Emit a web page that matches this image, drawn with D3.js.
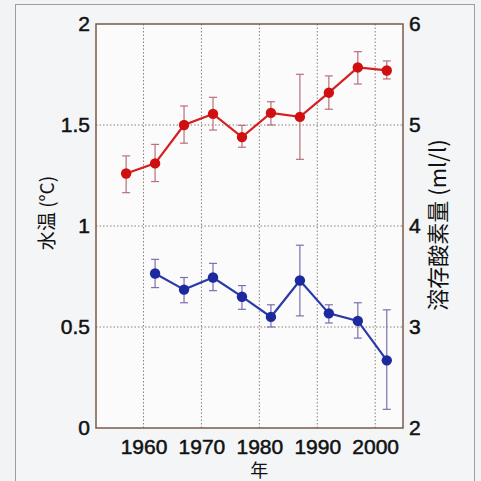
<!DOCTYPE html>
<html>
<head>
<meta charset="utf-8">
<script src="https://cdn.jsdelivr.net/npm/d3@7"></script>
<style>
  body { margin: 0; background: #f1f3f5; }
  svg { display: block; }
</style>
</head>
<body>
<div id="chart"></div>
<script>
// water temperature (left axis, red)
var tempYears = [1957, 1962, 1967, 1972, 1977, 1982, 1987, 1992, 1997, 2002];
var tempMean  = [1.26, 1.31, 1.50, 1.555, 1.44, 1.56, 1.54, 1.66, 1.785, 1.77];
var tempLow   = [1.165, 1.22, 1.41, 1.475, 1.39, 1.50, 1.33, 1.578, 1.703, 1.728];
var tempHigh  = [1.347, 1.404, 1.594, 1.637, 1.498, 1.615, 1.751, 1.743, 1.863, 1.817];

// dissolved oxygen (right axis, blue)
var oxyYears = [1962, 1967, 1972, 1977, 1982, 1987, 1992, 1997, 2002];
var oxyMean  = [3.53, 3.37, 3.49, 3.30, 3.10, 3.46, 3.135, 3.06, 2.67];
var oxyLow   = [3.39, 3.24, 3.36, 3.175, 3.00, 3.11, 3.04, 2.89, 2.185];
var oxyHigh  = [3.67, 3.49, 3.63, 3.41, 3.22, 3.81, 3.22, 3.24, 3.17];

var xTicks = [1960, 1970, 1980, 1990, 2000];
var leftTicks = [0, 0.5, 1, 1.5, 2];
var rightTicks = [2, 3, 4, 5, 6];

var W = 481, H = 481;
var margin = {top: 24, right: 78, bottom: 53, left: 96};
var width = W - margin.left - margin.right,
    height = H - margin.top - margin.bottom;

var svg = d3.select("#chart").append("svg")
    .attr("width", W)
    .attr("height", H);

// outer frame of the figure
svg.append("rect")
    .attr("x", 15.5).attr("y", 4.5)
    .attr("width", 459).attr("height", 490)
    .attr("fill", "#f3f5f7")
    .attr("stroke", "#9a9ea4")
    .attr("stroke-width", 1);

var g = svg.append("g")
    .attr("transform", "translate(" + margin.left + "," + margin.top + ")");

var x = d3.scaleLinear().domain([1951.8, 2004.8]).range([0, width]);
var yL = d3.scaleLinear().domain([0, 2]).range([height, 0]);
var yR = d3.scaleLinear().domain([2, 6]).range([height, 0]);

g.append("rect")
    .attr("width", width).attr("height", height)
    .attr("fill", "#fbfbfb");

// dotted grid
var gridColor = "#8f7f74";
g.append("g").selectAll("line")
    .data(xTicks)
    .enter().append("line")
    .attr("x1", function (d) { return x(d); })
    .attr("x2", function (d) { return x(d); })
    .attr("y1", 0).attr("y2", height)
    .attr("stroke", gridColor)
    .attr("stroke-width", 1)
    .attr("stroke-dasharray", "1.5,2");
g.append("g").selectAll("line")
    .data(leftTicks.slice(1, 4))
    .enter().append("line")
    .attr("x1", 0).attr("x2", width)
    .attr("y1", function (d) { return yL(d); })
    .attr("y2", function (d) { return yL(d); })
    .attr("stroke", gridColor)
    .attr("stroke-width", 1)
    .attr("stroke-dasharray", "1.5,2");

// axes
var font = "'Liberation Sans', Arial, sans-serif";
var xAxis = g.append("g")
    .attr("transform", "translate(0," + height + ")")
    .call(d3.axisBottom(x).tickValues(xTicks).tickFormat(d3.format("d")).tickSize(0).tickPadding(11));
var leftAxis = g.append("g")
    .call(d3.axisLeft(yL).tickValues(leftTicks).tickFormat(function (d) { return d; }).tickSize(0).tickPadding(6));
var rightAxis = g.append("g")
    .attr("transform", "translate(" + width + ",0)")
    .call(d3.axisRight(yR).tickValues(rightTicks).tickFormat(d3.format("d")).tickSize(0).tickPadding(6));

[xAxis, leftAxis, rightAxis].forEach(function (a) {
    a.select(".domain").remove();
    a.attr("font-size", 21).attr("font-family", font);
    a.selectAll("text")
        .attr("fill", "#111")
        .attr("stroke", "#111")
        .attr("stroke-width", 0.5)
        .attr("font-size", 21)
        .style("font-family", font)
        .style("font-size", "21px");
});

// plot frame
g.append("rect")
    .attr("width", width).attr("height", height)
    .attr("fill", "none")
    .attr("stroke", "#7a5a4c")
    .attr("stroke-width", 1.5);

// series
function drawSeries(years, mean, low, high, y, lineColor, dotColor, barColor) {
    var idx = d3.range(years.length);
    var bars = g.append("g");
    idx.forEach(function (i) {
        var cx = x(years[i]);
        bars.append("line")
            .attr("x1", cx).attr("x2", cx)
            .attr("y1", y(low[i])).attr("y2", y(high[i]))
            .attr("stroke", barColor).attr("stroke-width", 1.2);
        [low[i], high[i]].forEach(function (v) {
            bars.append("line")
                .attr("x1", cx - 4).attr("x2", cx + 4)
                .attr("y1", y(v)).attr("y2", y(v))
                .attr("stroke", barColor).attr("stroke-width", 1.2);
        });
    });
    var line = d3.line()
        .x(function (i) { return x(years[i]); })
        .y(function (i) { return y(mean[i]); });
    g.append("path")
        .datum(idx)
        .attr("d", line)
        .attr("fill", "none")
        .attr("stroke", lineColor)
        .attr("stroke-width", 2.2);
    g.append("g").selectAll("circle")
        .data(idx)
        .enter().append("circle")
        .attr("cx", function (i) { return x(years[i]); })
        .attr("cy", function (i) { return y(mean[i]); })
        .attr("r", 5.2)
        .attr("fill", dotColor);
}

drawSeries(tempYears, tempMean, tempLow, tempHigh, yL, "#d42020", "#d01010", "#b8707a");
drawSeries(oxyYears, oxyMean, oxyLow, oxyHigh, yR, "#2a3aa8", "#1c2a9e", "#7a70b0");

// axis titles
var cjk = "'Noto Sans CJK JP', 'Noto Sans', sans-serif";
svg.append("text")
    .attr("transform", "translate(54,213) rotate(-90)")
    .attr("text-anchor", "middle")
    .style("font-family", cjk)
    .style("font-size", "19px")
    .attr("fill", "#111")
    .text("水温 (°C)");
svg.append("text")
    .attr("transform", "translate(446,225) rotate(-90)")
    .attr("text-anchor", "middle")
    .style("font-family", cjk)
    .style("font-size", "22px")
    .attr("fill", "#111")
    .text("溶存酸素量 (ml/l)");
svg.append("text")
    .attr("x", margin.left + x(1980))
    .attr("y", 477)
    .attr("text-anchor", "middle")
    .style("font-family", cjk)
    .style("font-size", "18px")
    .attr("fill", "#111")
    .text("年");
</script>
</body>
</html>
